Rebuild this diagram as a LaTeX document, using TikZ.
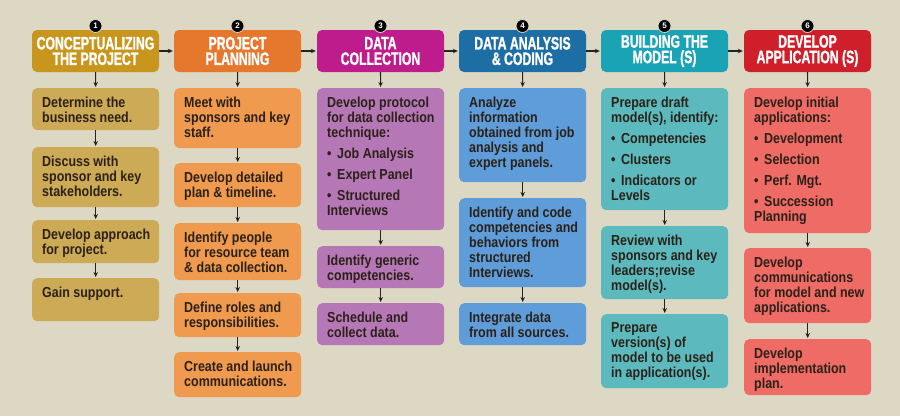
\documentclass[tikz,border=0pt]{standalone}
\usepackage{fontspec}
\setmainfont{Liberation Sans}
\newfontfamily\hdrfont{Liberation Sans}[FakeStretch=0.68,FakeBold=1.2]
\newfontfamily\bodyfnt{Liberation Sans}[FakeStretch=0.86]
\usetikzlibrary{arrows.meta}
\definecolor{bg}{HTML}{DDD8C3}
\definecolor{hA}{HTML}{C8961C}\definecolor{bA}{HTML}{CDAA55}
\definecolor{hB}{HTML}{E5782D}\definecolor{bB}{HTML}{EF9A4E}
\definecolor{hC}{HTML}{BE1C8C}\definecolor{bC}{HTML}{B677B6}
\definecolor{hD}{HTML}{1E6EA6}\definecolor{bD}{HTML}{5E9DDA}
\definecolor{hE}{HTML}{1AA2B5}\definecolor{bE}{HTML}{5CBABE}
\definecolor{hF}{HTML}{CF1F2A}\definecolor{bF}{HTML}{EE6B66}
\definecolor{txt}{HTML}{2B2118}
\definecolor{arrc}{HTML}{222222}
\newcommand\bx[2]{\parbox[c][#1pt][t]{127pt}{\raggedright\leftskip=10pt\vspace*{8.5pt}#2}}
\newcommand\itm[1]{\par\vspace{6pt}\hangindent=10pt\hangafter=1\noindent\makebox[10pt][l]{\textbullet}#1}
\begin{document}
\begin{tikzpicture}[x=1pt,y=-1pt,
  hdr/.style={rounded corners=5pt, minimum width=127pt, minimum height=42pt, inner sep=0pt, text=white, align=center, font=\hdrfont\bfseries\fontsize{18}{15.5}\selectfont},
  body/.style={anchor=north west, rounded corners=5pt, inner sep=0pt, text=txt, font=\bodyfnt\bfseries\fontsize{14.5}{15}\selectfont},
  num/.style={circle, fill=black, draw=bg, line width=0.8pt, minimum size=13pt, inner sep=0pt, text=white, font=\bfseries\fontsize{8}{8}\selectfont},
  arr/.style={draw=arrc, line width=1.1pt, shorten >=1pt, -{Stealth[length=5pt,width=4.5pt]}}]
\fill[bg] (0,0) rectangle (900,416);
\useasboundingbox (0,0) rectangle (900,416);
% headers
\node[hdr, fill=hA] (h1) at (95.5,51) {CONCEPTUALIZING\\THE PROJECT};
\node[hdr, fill=hB] (h2) at (237.5,51) {PROJECT\\PLANNING};
\node[hdr, fill=hC] (h3) at (380.5,51) {DATA\\COLLECTION};
\node[hdr, fill=hD] (h4) at (522.5,51) {DATA ANALYSIS\\\& CODING};
\node[hdr, fill=hE] (h5) at (664.5,51) {BUILDING THE\\MODEL (S)};
\node[hdr, fill=hF] (h6) at (807.5,51) {DEVELOP\\APPLICATION (S)};
\node[num] (n1) at (95.5,26) {1};
\node[num] (n2) at (237.5,26) {2};
\node[num] (n3) at (380.5,26) {3};
\node[num] (n4) at (522.5,26) {4};
\node[num] (n5) at (664.5,26) {5};
\node[num] (n6) at (807.5,26) {6};
% column 1
\node[body, fill=bA] (a1) at (32,88) {\bx{42}{Determine the\\business need.}};
\node[body, fill=bA] (a2) at (32,147) {\bx{60}{Discuss with\\sponsor and key\\stakeholders.}};
\node[body, fill=bA] (a3) at (32,220) {\bx{43}{Develop approach\\for project.}};
\node[body, fill=bA] (a4) at (32,278) {\bx{43}{Gain support.}};
% column 2
\node[body, fill=bB] (b1) at (174,88) {\bx{60}{Meet with\\sponsors and key\\staff.}};
\node[body, fill=bB] (b2) at (174,163) {\bx{44}{Develop detailed\\plan \& timeline.}};
\node[body, fill=bB] (b3) at (174,223) {\bx{57}{Identify people\\for resource team\\\& data collection.}};
\node[body, fill=bB] (b4) at (174,293) {\bx{44}{Define roles and\\responsibilities.}};
\node[body, fill=bB] (b5) at (174,352) {\bx{45}{Create and launch\\communications.}};
% column 3
\node[body, fill=bC] (c1) at (317,88) {\bx{142}{Develop protocol\\for data collection\\technique:\itm{Job Analysis}\itm{Expert Panel}\itm{Structured\\Interviews}}};
\node[body, fill=bC] (c2) at (317,246) {\bx{42}{Identify generic\\competencies.}};
\node[body, fill=bC] (c3) at (317,303) {\bx{42}{Schedule and\\collect data.}};
% column 4
\node[body, fill=bD] (d1) at (459,88) {\bx{94}{Analyze\\information\\obtained from job\\analysis and\\expert panels.}};
\node[body, fill=bD] (d2) at (459,198) {\bx{89}{Identify and code\\competencies and\\behaviors from\\structured\\Interviews.}};
\node[body, fill=bD] (d3) at (459,303) {\bx{42}{Integrate data\\from all sources.}};
% column 5
\node[body, fill=bE] (e1) at (601,88) {\bx{122}{Prepare draft\\model(s), identify:\itm{Competencies}\itm{Clusters}\itm{Indicators or\\Levels}}};
\node[body, fill=bE] (e2) at (601,226) {\bx{73}{Review with\\sponsors and key\\leaders;revise\\model(s).}};
\node[body, fill=bE] (e3) at (601,314) {\bx{74}{Prepare\\version(s) of\\model to be used\\in application(s).}};
% column 6
\node[body, fill=bF] (f1) at (744,88) {\bx{145}{Develop initial\\applications:\itm{Development}\itm{Selection}\itm{Perf. Mgt.}\itm{Succession\\Planning}}};
\node[body, fill=bF] (f2) at (744,248) {\bx{75}{Develop\\communications\\for model and new\\applications.}};
\node[body, fill=bF] (f3) at (744,339) {\bx{56}{Develop\\implementation\\plan.}};
% arrows
\draw[arr] (h1) -- (h2);
\draw[arr] (h2) -- (h3);
\draw[arr] (h3) -- (h4);
\draw[arr] (h4) -- (h5);
\draw[arr] (h5) -- (h6);
\draw[arr] (h1) -- (a1);
\draw[arr] (a1) -- (a2);
\draw[arr] (a2) -- (a3);
\draw[arr] (a3) -- (a4);
\draw[arr] (h2) -- (b1);
\draw[arr] (b1) -- (b2);
\draw[arr] (b2) -- (b3);
\draw[arr] (b3) -- (b4);
\draw[arr] (b4) -- (b5);
\draw[arr] (h3) -- (c1);
\draw[arr] (c1) -- (c2);
\draw[arr] (c2) -- (c3);
\draw[arr] (h4) -- (d1);
\draw[arr] (d1) -- (d2);
\draw[arr] (d2) -- (d3);
\draw[arr] (h5) -- (e1);
\draw[arr] (e1) -- (e2);
\draw[arr] (e2) -- (e3);
\draw[arr] (h6) -- (f1);
\draw[arr] (f1) -- (f2);
\draw[arr] (f2) -- (f3);
\end{tikzpicture}
\end{document}
